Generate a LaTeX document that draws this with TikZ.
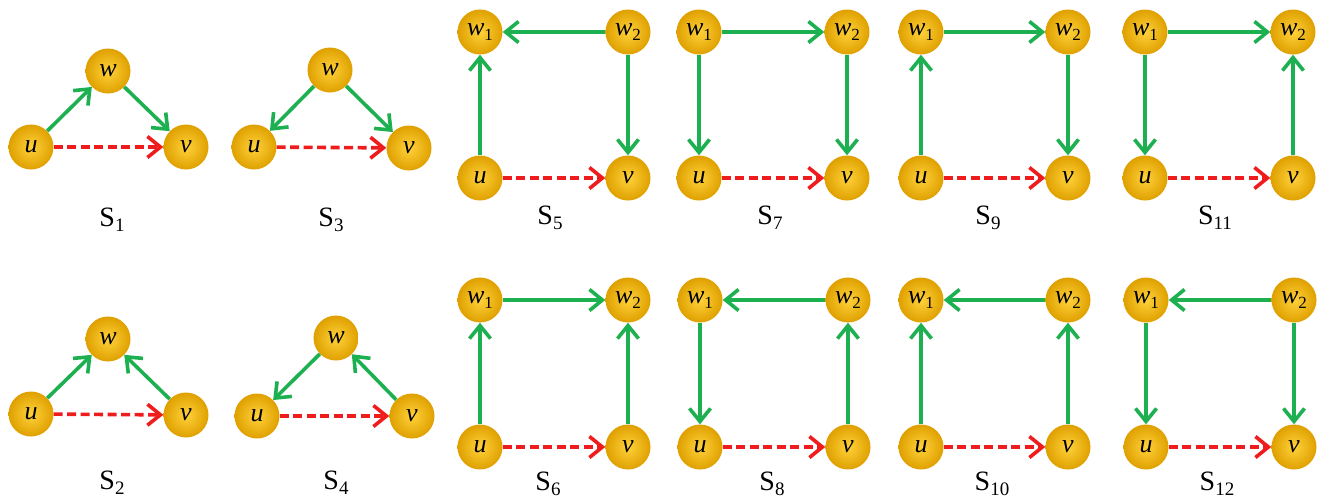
\documentclass[tikz,border=0pt]{standalone}
\usepackage{fontspec}
\setmainfont{Liberation Serif}
\usetikzlibrary{arrows.meta}
\definecolor{ballin}{HTML}{FFD23A}
\definecolor{ballout}{HTML}{DFA000}
\definecolor{edgegreen}{HTML}{1DB050}
\definecolor{edgered}{HTML}{EE1C1C}
\tikzset{
  ball/.style={circle, minimum size=45pt, inner sep=0pt,
    inner color=ballin, outer color=ballout,
    font=\fontsize{26}{26}\selectfont\itshape},
  garr/.style={draw=edgegreen, line width=3.6pt,
    -{Straight Barb[length=13pt,width=21pt,line width=3.6pt]}},
  rarr/.style={draw=edgered, line width=3.6pt, dash pattern=on 9pt off 4.5pt,
    -{Straight Barb[length=13pt,width=21pt,line width=3.6pt]}},
  lab/.style={font=\fontsize{28}{28}\selectfont, inner sep=0pt}
}
\newcommand{\wsub}[1]{w\raisebox{-0.22em}{\upshape\fontsize{17}{17}\selectfont #1}}
\newcommand{\slab}[1]{S\raisebox{-0.18em}{\fontsize{19}{19}\selectfont #1}}
\begin{document}
\begin{tikzpicture}[x=1pt,y=-1pt]
\useasboundingbox (0,0) rectangle (1318,501);
% ---------- triangles ----------
% S1
\node[ball] (a1u) at (31,147) {u};
\node[ball] (a1w) at (108,71) {w};
\node[ball] (a1v) at (186,147) {v};
\draw[garr] (a1u) -- (a1w);
\draw[garr] (a1w) -- (a1v);
\draw[rarr] (a1u) -- (a1v);
\node[lab] (l1) at (112,220) {\slab{1}};
% S3
\node[ball] (a3u) at (254,147) {u};
\node[ball] (a3w) at (330,70) {w};
\node[ball] (a3v) at (409,148) {v};
\draw[garr] (a3w) -- (a3u);
\draw[garr] (a3w) -- (a3v);
\draw[rarr] (a3u) -- (a3v);
\node[lab] (l3) at (331,220) {\slab{3}};
% S2
\node[ball] (a2u) at (31,414) {u};
\node[ball] (a2w) at (108,339) {w};
\node[ball] (a2v) at (186,415) {v};
\draw[garr] (a2u) -- (a2w);
\draw[garr] (a2v) -- (a2w);
\draw[rarr] (a2u) -- (a2v);
\node[lab] (l2) at (112,483) {\slab{2}};
% S4
\node[ball] (a4u) at (257,416) {u};
\node[ball] (a4w) at (336,338) {w};
\node[ball] (a4v) at (412,416) {v};
\draw[garr] (a4w) -- (a4u);
\draw[garr] (a4v) -- (a4w);
\draw[rarr] (a4u) -- (a4v);
\node[lab] (l4) at (336,483) {\slab{4}};
% ---------- squares ----------
% S5
\node[ball] (b5a) at (480,32) {\wsub{1}};
\node[ball] (b5b) at (628,32) {\wsub{2}};
\node[ball] (b5u) at (480,178) {u};
\node[ball] (b5v) at (628,178) {v};
\draw[garr] (b5u) -- (b5a);
\draw[garr] (b5b) -- (b5a);
\draw[garr] (b5b) -- (b5v);
\draw[rarr] (b5u) -- (b5v);
\node[lab] (l5) at (550,218) {\slab{5}};
% S7
\node[ball] (b7a) at (699,32) {\wsub{1}};
\node[ball] (b7b) at (847,32) {\wsub{2}};
\node[ball] (b7u) at (699,178) {u};
\node[ball] (b7v) at (847,178) {v};
\draw[garr] (b7a) -- (b7b);
\draw[garr] (b7a) -- (b7u);
\draw[garr] (b7b) -- (b7v);
\draw[rarr] (b7u) -- (b7v);
\node[lab] (l7) at (770,218) {\slab{7}};
% S9
\node[ball] (b9a) at (921,32) {\wsub{1}};
\node[ball] (b9b) at (1068,32) {\wsub{2}};
\node[ball] (b9u) at (921,178) {u};
\node[ball] (b9v) at (1068,178) {v};
\draw[garr] (b9u) -- (b9a);
\draw[garr] (b9a) -- (b9b);
\draw[garr] (b9b) -- (b9v);
\draw[rarr] (b9u) -- (b9v);
\node[lab] (l9) at (988,218) {\slab{9}};
% S11
\node[ball] (b11a) at (1145,32) {\wsub{1}};
\node[ball] (b11b) at (1293,32) {\wsub{2}};
\node[ball] (b11u) at (1145,178) {u};
\node[ball] (b11v) at (1293,178) {v};
\draw[garr] (b11a) -- (b11u);
\draw[garr] (b11a) -- (b11b);
\draw[garr] (b11v) -- (b11b);
\draw[rarr] (b11u) -- (b11v);
\node[lab] (l11) at (1215,218) {\slab{11}};
% S6
\node[ball] (b6a) at (480,300) {\wsub{1}};
\node[ball] (b6b) at (628,300) {\wsub{2}};
\node[ball] (b6u) at (480,447) {u};
\node[ball] (b6v) at (628,447) {v};
\draw[garr] (b6u) -- (b6a);
\draw[garr] (b6a) -- (b6b);
\draw[garr] (b6v) -- (b6b);
\draw[rarr] (b6u) -- (b6v);
\node[lab] (l6) at (548,484) {\slab{6}};
% S8
\node[ball] (b8a) at (700,300) {\wsub{1}};
\node[ball] (b8b) at (848,300) {\wsub{2}};
\node[ball] (b8u) at (700,447) {u};
\node[ball] (b8v) at (848,447) {v};
\draw[garr] (b8b) -- (b8a);
\draw[garr] (b8a) -- (b8u);
\draw[garr] (b8v) -- (b8b);
\draw[rarr] (b8u) -- (b8v);
\node[lab] (l8) at (772,484) {\slab{8}};
% S10
\node[ball] (b10a) at (921,300) {\wsub{1}};
\node[ball] (b10b) at (1068,300) {\wsub{2}};
\node[ball] (b10u) at (921,447) {u};
\node[ball] (b10v) at (1068,447) {v};
\draw[garr] (b10u) -- (b10a);
\draw[garr] (b10b) -- (b10a);
\draw[garr] (b10v) -- (b10b);
\draw[rarr] (b10u) -- (b10v);
\node[lab] (l10) at (992,484) {\slab{10}};
% S12
\node[ball] (b12a) at (1146,300) {\wsub{1}};
\node[ball] (b12b) at (1294,300) {\wsub{2}};
\node[ball] (b12u) at (1146,447) {u};
\node[ball] (b12v) at (1294,447) {v};
\draw[garr] (b12b) -- (b12a);
\draw[garr] (b12a) -- (b12u);
\draw[garr] (b12b) -- (b12v);
\draw[rarr] (b12u) -- (b12v);
\node[lab] (l12) at (1217,484) {\slab{12}};
\end{tikzpicture}
\end{document}
